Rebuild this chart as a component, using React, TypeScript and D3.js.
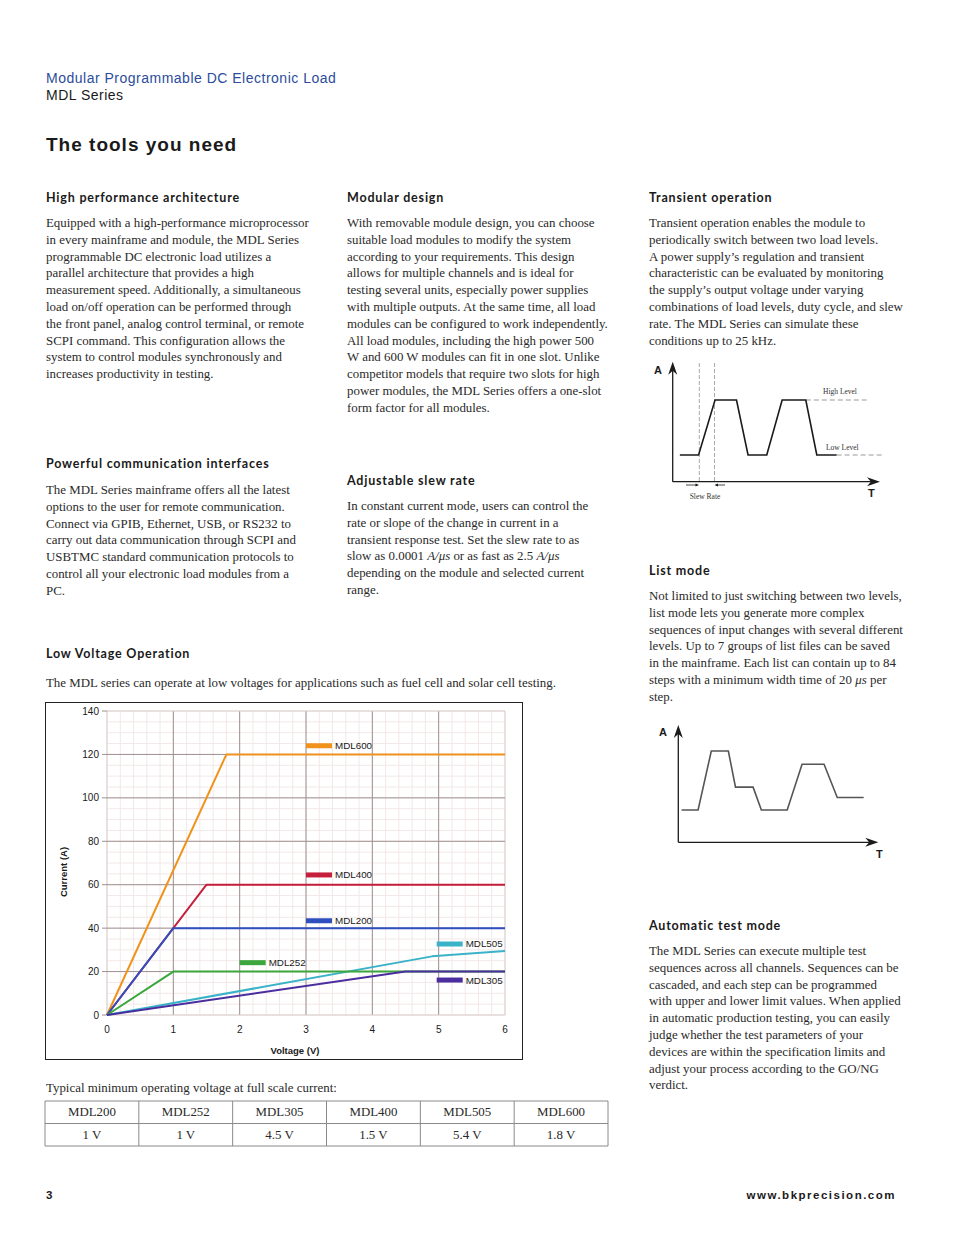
import * as d3 from 'd3'

// chart data: voltage (V) breakpoints and current (A) for each module
const modules = ['MDL600', 'MDL400', 'MDL200', 'MDL505', 'MDL252', 'MDL305']
const voltsMDL600 = [0, 1.8, 6]
const ampsMDL600 = [0, 120, 120]
const voltsMDL400 = [0, 1.5, 6]
const ampsMDL400 = [0, 60, 60]
const voltsMDL200 = [0, 1, 6]
const ampsMDL200 = [0, 40, 40]
const voltsMDL505 = [0, 4.9, 6]
const ampsMDL505 = [0, 27, 29.5]
const voltsMDL252 = [0, 1, 6]
const ampsMDL252 = [0, 20, 20]
const voltsMDL305 = [0, 4.5, 6]
const ampsMDL305 = [0, 20, 20]
const xTicks = [0, 1, 2, 3, 4, 5, 6]
const yTicks = [0, 20, 40, 60, 80, 100, 120, 140]

// legend anchor (V, A) per module
const legendV = [3.0, 3.0, 3.0, 4.97, 2.0, 4.97]
const legendA = [124, 64.5, 43.4, 32.7, 24.1, 16.1]

// table
const tableModels = ['MDL200', 'MDL252', 'MDL305', 'MDL400', 'MDL505', 'MDL600']
const tableVolts = ['1 V', '1 V', '4.5 V', '1.5 V', '5.4 V', '1.8 V']

// diagrams: [time, level]
const transientWave = [[1.3, 0], [4.7, 0], [7.7, 1], [11.6, 1], [13.7, 0], [17.1, 0], [19.9, 1], [24.2, 1], [26.2, 0], [29.8, 0]]
const listWave = [[0.6, 0], [3.6, 0], [6.0, 4], [9.1, 4], [10.4, 1.55], [13.6, 1.55], [15.1, 0], [19.8, 0], [22.5, 3.1], [26.5, 3.1], [28.9, 0.85], [33.7, 0.85]]

const seriesVolts = [voltsMDL600, voltsMDL400, voltsMDL200, voltsMDL505, voltsMDL252, voltsMDL305]
const seriesAmps = [ampsMDL600, ampsMDL400, ampsMDL200, ampsMDL505, ampsMDL252, ampsMDL305]
const colors: Record<string, string> = {
  MDL600: '#f0921c',
  MDL400: '#c61f3b',
  MDL200: '#2f4fbf',
  MDL505: '#3ab2c8',
  MDL252: '#3aa63c',
  MDL305: '#4a2d9e',
}

const col1 = [
  'Equipped with a high-performance microprocessor',
  'in every mainframe and module, the MDL Series',
  'programmable DC electronic load utilizes a',
  'parallel architecture that provides a high',
  'measurement speed. Additionally, a simultaneous',
  'load on/off operation can be performed through',
  'the front panel, analog control terminal, or remote',
  'SCPI command. This configuration allows the',
  'system to control modules synchronously and',
  'increases productivity in testing.',
]
const col1b = [
  'The MDL Series mainframe offers all the latest',
  'options to the user for remote communication.',
  'Connect via GPIB, Ethernet, USB, or RS232 to',
  'carry out data communication through SCPI and',
  'USBTMC standard communication protocols to',
  'control all your electronic load modules from a',
  'PC.',
]
const col2 = [
  'With removable module design, you can choose',
  'suitable load modules to modify the system',
  'according to your requirements. This design',
  'allows for multiple channels and is ideal for',
  'testing several units, especially power supplies',
  'with multiple outputs. At the same time, all load',
  'modules can be configured to work independently.',
  'All load modules, including the high power 500',
  'W and 600 W modules can fit in one slot. Unlike',
  'competitor models that require two slots for high',
  'power modules, the MDL Series offers a one-slot',
  'form factor for all modules.',
]
const col2b = [
  'In constant current mode, users can control the',
  'rate or slope of the change in current in a',
  'transient response test. Set the slew rate to as',
  'slow as 0.0001 _A/μs_ or as fast as 2.5 _A/μs_',
  'depending on the module and selected current',
  'range.',
]
const col3 = [
  'Transient operation enables the module to',
  'periodically switch between two load levels.',
  'A power supply’s regulation and transient',
  'characteristic can be evaluated by monitoring',
  'the supply’s output voltage under varying',
  'combinations of load levels, duty cycle, and slew',
  'rate. The MDL Series can simulate these',
  'conditions up to 25 kHz.',
]
const col3b = [
  'Not limited to just switching between two levels,',
  'list mode lets you generate more complex',
  'sequences of input changes with several different',
  'levels. Up to 7 groups of list files can be saved',
  'in the mainframe. Each list can contain up to 84',
  'steps with a minimum width time of 20 _μs_ per',
  'step.',
]
const col3c = [
  'The MDL Series can execute multiple test',
  'sequences across all channels. Sequences can be',
  'cascaded, and each step can be programmed',
  'with upper and lower limit values. When applied',
  'in automatic production testing, you can easily',
  'judge whether the test parameters of your',
  'devices are within the specification limits and',
  'adjust your process according to the GO/NG',
  'verdict.',
]

const serif = '"Liberation Serif", serif'
const sans = '"Liberation Sans", Arial, sans-serif'
const head = 'Lato, "Open Sans", sans-serif'
const LH = 16.8
const BODY = 12.9

function Line({ text, x, y }: { text: string; x: number; y: number }) {
  const parts = text.split('_')
  return (
    <text x={x} y={y} fontFamily={serif} fontSize={BODY} fill="#2a2a2a">
      {parts.map((p, i) => (
        <tspan key={i} fontStyle={i % 2 ? 'italic' : 'normal'}>
          {p}
        </tspan>
      ))}
    </text>
  )
}

function Para({ lines, x, y }: { lines: string[]; x: number; y: number }) {
  return (
    <g>
      {lines.map((l, i) => (
        <Line key={i} text={l} x={x} y={y + i * LH} />
      ))}
    </g>
  )
}

function Heading({ text, x, y }: { text: string; x: number; y: number }) {
  return (
    <text x={x} y={y} fontFamily={head} fontWeight={700} fontSize={12.5} letterSpacing={0.8} fill="#1a1a1a">
      {text}
    </text>
  )
}

function Chart() {
  const x = d3.scaleLinear().domain([0, 6]).range([107, 505])
  const y = d3.scaleLinear().domain([0, 140]).range([1015, 711])
  const line = d3
    .line<number[]>()
    .x((d) => x(d[0]))
    .y((d) => y(d[1]))
  const minorX = d3.range(0, 6.001, 0.2)
  const minorY = d3.range(0, 140.001, 5)

  return (
    <g>
      <rect x={45.5} y={702.5} width={477} height={357} fill="#fff" stroke="#222" strokeWidth={1} />
      {minorX.map((v, i) => (
        <line key={'mx' + i} x1={x(v)} x2={x(v)} y1={y(140)} y2={y(0)} stroke="#f3e8e8" strokeWidth={1} />
      ))}
      {minorY.map((v, i) => (
        <line key={'my' + i} x1={x(0)} x2={x(6)} y1={y(v)} y2={y(v)} stroke="#f3e8e8" strokeWidth={1} />
      ))}
      {xTicks.map((v) => (
        <line key={'gx' + v} x1={x(v)} x2={x(v)} y1={y(140)} y2={y(0)} stroke={v === 0 || v === 6 ? '#d8cccc' : '#9f9090'} strokeWidth={1} />
      ))}
      {yTicks.map((v) => (
        <line key={'gy' + v} x1={x(0)} x2={x(6)} y1={y(v)} y2={y(v)} stroke={v === 140 || v === 0 ? '#d8cccc' : '#9f9090'} strokeWidth={1} />
      ))}
      {yTicks.map((v) => (
        <g key={'ty' + v}>
          <line x1={x(0) - 5} x2={x(0)} y1={y(v)} y2={y(v)} stroke="#9f9090" />
          <text x={x(0) - 8} y={y(v) + 3.5} textAnchor="end" fontFamily={sans} fontSize={10} fill="#1a1a1a">
            {v}
          </text>
        </g>
      ))}
      {xTicks.map((v) => (
        <text key={'tx' + v} x={x(v)} y={y(0) + 18} textAnchor="middle" fontFamily={sans} fontSize={10} fill="#1a1a1a">
          {v}
        </text>
      ))}
      <text x={295} y={1054} textAnchor="middle" fontFamily={sans} fontWeight={700} fontSize={9.5} fill="#1a1a1a">
        Voltage (V)
      </text>
      <text transform="translate(67,872) rotate(-90)" textAnchor="middle" fontFamily={sans} fontWeight={700} fontSize={9.5} fill="#1a1a1a">
        Current (A)
      </text>
      {modules.map((m, i) => (
        <path
          key={m}
          d={line(seriesVolts[i].map((v, j) => [v, seriesAmps[i][j]])) || ''}
          fill="none"
          stroke={colors[m]}
          strokeWidth={2}
          strokeLinejoin="round"
        />
      ))}
      {modules.map((m, i) => (
        <g key={'lg' + m}>
          <rect x={x(legendV[i])} y={y(legendA[i]) - 2.5} width={26} height={5} fill={colors[m]} />
          <text x={x(legendV[i]) + 29} y={y(legendA[i]) + 3.5} fontFamily={sans} fontSize={9.8} fill="#1a1a1a">
            {m}
          </text>
        </g>
      ))}
    </g>
  )
}

function Arrow({ x1, y1, x2, y2 }: { x1: number; y1: number; x2: number; y2: number }) {
  const a = Math.atan2(y2 - y1, x2 - x1)
  const L = 13
  const W = 4.5
  const bx = x2 - L * Math.cos(a)
  const by = y2 - L * Math.sin(a)
  const mx = x2 - L * 0.7 * Math.cos(a)
  const my = y2 - L * 0.7 * Math.sin(a)
  const px = -Math.sin(a) * W
  const py = Math.cos(a) * W
  return (
    <g>
      <line x1={x1} y1={y1} x2={mx} y2={my} stroke="#1a1a1a" strokeWidth={1.3} />
      <path d={`M${x2},${y2}L${bx + px},${by + py}L${mx},${my}L${bx - px},${by - py}Z`} fill="#1a1a1a" />
    </g>
  )
}

function TransientDiagram() {
  const x = d3.scaleLinear().domain([0, 1]).range([672.7, 678.2])
  const y = d3.scaleLinear().domain([0, 1]).range([455, 400])
  const line = d3
    .line<number[]>()
    .x((d) => x(d[0]))
    .y((d) => y(d[1]))
  const last = transientWave[transientWave.length - 1]
  const hiEnd = transientWave[7]
  return (
    <g>
      <line x1={699.3} x2={699.3} y1={363} y2={482} stroke="#aaa" strokeDasharray="4,2" />
      <line x1={714.5} x2={714.5} y1={363} y2={482} stroke="#aaa" strokeDasharray="4,2" />
      <line x1={x(hiEnd[0])} x2={866.7} y1={y(1)} y2={y(1)} stroke="#999" strokeDasharray="5,3" />
      <line x1={x(last[0])} x2={881.7} y1={y(0)} y2={y(0)} stroke="#999" strokeDasharray="5,3" />
      <Arrow x1={672.7} y1={481.7} x2={672.7} y2={361.7} />
      <Arrow x1={672.7} y1={481.7} x2={880} y2={481.7} />
      <path d={line(transientWave) || ''} fill="none" stroke="#1a1a1a" strokeWidth={1.6} />
      <line x1={686} x2={697} y1={485} y2={485} stroke="#1a1a1a" strokeWidth={0.8} />
      <path d="M699,485l-3.5,-1.6v3.2z" fill="#1a1a1a" />
      <line x1={725} x2={716.5} y1={485} y2={485} stroke="#1a1a1a" strokeWidth={0.8} />
      <path d="M714.5,485l3.5,-1.6v3.2z" fill="#1a1a1a" />
      <text x={654} y={374} fontFamily={sans} fontWeight={700} fontSize={11} fill="#1a1a1a">A</text>
      <text x={868} y={497} fontFamily={sans} fontWeight={700} fontSize={11} fill="#1a1a1a">T</text>
      <text x={705} y={499} textAnchor="middle" fontFamily={serif} fontSize={7.5} fill="#333">Slew Rate</text>
      <text x={823} y={394} fontFamily={serif} fontSize={7.5} fill="#333">High Level</text>
      <text x={826} y={450} fontFamily={serif} fontSize={7.5} fill="#333">Low Level</text>
    </g>
  )
}

function ListDiagram() {
  const x = d3.scaleLinear().domain([0, 1]).range([678.3, 683.8])
  const y = d3.scaleLinear().domain([0, 1]).range([810, 795.25])
  const line = d3
    .line<number[]>()
    .x((d) => x(d[0]))
    .y((d) => y(d[1]))
  return (
    <g>
      <Arrow x1={678.3} y1={842.3} x2={678.3} y2={725} />
      <Arrow x1={678.3} y1={842.3} x2={878.3} y2={842.3} />
      <path d={line(listWave) || ''} fill="none" stroke="#555" strokeWidth={1.6} />
      <text x={659} y={736} fontFamily={sans} fontWeight={700} fontSize={11} fill="#1a1a1a">A</text>
      <text x={876} y={858} fontFamily={sans} fontWeight={700} fontSize={11} fill="#1a1a1a">T</text>
    </g>
  )
}

function Table() {
  const x = d3.scaleBand<string>().domain(tableModels).range([45, 608])
  const rows = [1101, 1123.5, 1146]
  return (
    <g>
      <text x={46} y={1092} fontFamily={serif} fontSize={BODY} fill="#2a2a2a">
        Typical minimum operating voltage at full scale current:
      </text>
      {rows.map((r) => (
        <line key={r} x1={45} x2={608} y1={r} y2={r} stroke="#8a8a8a" strokeWidth={1} />
      ))}
      {[...tableModels.map((m) => x(m) as number), 608].map((v, i) => (
        <line key={i} x1={v} x2={v} y1={1101} y2={1146} stroke="#8a8a8a" strokeWidth={1} />
      ))}
      {tableModels.map((m, i) => (
        <g key={m}>
          <text x={(x(m) as number) + x.bandwidth() / 2} y={1116} textAnchor="middle" fontFamily={serif} fontSize={BODY} fill="#2a2a2a">
            {m}
          </text>
          <text x={(x(m) as number) + x.bandwidth() / 2} y={1138.5} textAnchor="middle" fontFamily={serif} fontSize={BODY} fill="#2a2a2a">
            {tableVolts[i]}
          </text>
        </g>
      ))}
    </g>
  )
}

export default function App() {
  return (
    <div style={{ position: 'absolute', left: 0, top: 0 }}>
      <svg width={954} height={1235} style={{ display: 'block', background: '#fff' }}>
        <text x={46} y={83} fontFamily={sans} fontSize={14} letterSpacing={0.5} fill="#2c4c9c">
          Modular Programmable DC Electronic Load
        </text>
        <text x={46} y={100} fontFamily={sans} fontSize={14} letterSpacing={0.5} fill="#1a1a1a">
          MDL Series
        </text>
        <text x={46} y={151} fontFamily={sans} fontWeight={700} fontSize={19} letterSpacing={1} fill="#1a1a1a">
          The tools you need
        </text>

        <Heading text="High performance architecture" x={46} y={202} />
        <Para lines={col1} x={46} y={227} />
        <Heading text="Powerful communication interfaces" x={46} y={468} />
        <Para lines={col1b} x={46} y={494} />
        <Heading text="Low Voltage Operation" x={46} y={658} />
        <Line text="The MDL series can operate at low voltages for applications such as fuel cell and solar cell testing." x={46} y={687} />

        <Heading text="Modular design" x={347} y={202} />
        <Para lines={col2} x={347} y={227} />
        <Heading text="Adjustable slew rate" x={347} y={485} />
        <Para lines={col2b} x={347} y={510} />

        <Heading text="Transient operation" x={649} y={202} />
        <Para lines={col3} x={649} y={227} />
        <Heading text="List mode" x={649} y={575} />
        <Para lines={col3b} x={649} y={600} />
        <Heading text="Automatic test mode" x={649} y={930} />
        <Para lines={col3c} x={649} y={955} />

        <Chart />
        <TransientDiagram />
        <ListDiagram />
        <Table />

        <text x={46} y={1199} fontFamily={sans} fontWeight={700} fontSize={11.5} fill="#1a1a1a">
          3
        </text>
        <text x={896} y={1199} textAnchor="end" fontFamily={sans} fontWeight={700} fontSize={11.5} letterSpacing={1.5} fill="#1a1a1a">
          www.bkprecision.com
        </text>
      </svg>
    </div>
  )
}
